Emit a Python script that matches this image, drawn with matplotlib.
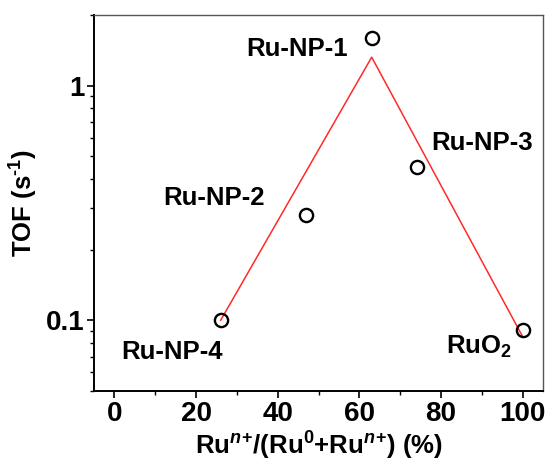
import matplotlib.pyplot as plt
from matplotlib.ticker import FixedLocator, LogLocator, NullFormatter

plt.rcParams["font.family"] = ["Liberation Sans", "DejaVu Sans"]
plt.rcParams["mathtext.fontset"] = "custom"
plt.rcParams["mathtext.rm"] = "Liberation Sans:bold"
plt.rcParams["mathtext.it"] = "Liberation Sans:bold:italic"
plt.rcParams["mathtext.bf"] = "Liberation Sans:bold"

# measured samples
samples = ["Ru-NP-4", "Ru-NP-2", "Ru-NP-1", "Ru-NP-3", "RuO$_2$"]
ru_ratio = [26, 47, 63, 74, 100]
tof = [0.100, 0.280, 1.60, 0.450, 0.091]

# guide line (volcano)
trend_x = [26, 63, 100]
trend_y = [0.100, 1.32, 0.085]

# label anchors (x, y, horizontal alignment)
label_pos = [
    (14.2, 0.0687, "center"),
    (24.3, 0.309, "center"),
    (44.8, 1.342, "center"),
    (90.0, 0.532, "center"),
    (81.2, 0.0717, "left"),
]

fig = plt.figure(figsize=(5.47, 4.63), dpi=100)
ax = fig.add_axes([0.172, 0.1555, 0.821, 0.8125])

ax.plot(trend_x, trend_y, color="#ff2a2a", linewidth=1.1, zorder=2)
ax.plot(ru_ratio, tof, linestyle="none", marker="o", markersize=9.5,
        markerfacecolor="none", markeredgecolor="black",
        markeredgewidth=1.7, zorder=3)

for name, (lx, ly, ha) in zip(samples, label_pos):
    ax.text(lx, ly, name, ha=ha, va="baseline", fontsize=18.5,
            fontweight="bold")

ax.set_yscale("log")
ax.set_xlim(-5, 105)
ax.set_ylim(0.05, 2)

ax.xaxis.set_major_locator(FixedLocator([0, 20, 40, 60, 80, 100]))
ax.xaxis.set_minor_locator(FixedLocator([10, 30, 50, 70, 90]))
ax.yaxis.set_major_locator(FixedLocator([0.1, 1]))
ax.yaxis.set_major_formatter(plt.FixedFormatter(["0.1", "1"]))
ax.yaxis.set_minor_locator(LogLocator(base=10, subs=range(2, 10)))
ax.yaxis.set_minor_formatter(NullFormatter())

ax.tick_params(which="major", direction="out", length=5, width=1.2,
               labelsize=20, pad=2)
ax.tick_params(which="minor", direction="out", length=3, width=1.0)
ax.tick_params(top=False, right=False, which="both")
for lab in ax.get_xticklabels() + ax.get_yticklabels():
    lab.set_fontweight("bold")

for side in ["left", "bottom"]:
    ax.spines[side].set_linewidth(1.4)
    ax.spines[side].set_color("black")
for side in ["top", "right"]:
    ax.spines[side].set_linewidth(1.0)
    ax.spines[side].set_color("#555555")

ax.set_xlabel("Ru$^{n}$$^{+}$/(Ru$^{0}$+Ru$^{n}$$^{+}$) (%)", fontsize=18.5,
              fontweight="bold", labelpad=2)
ax.set_ylabel("TOF (s$^{\\text{-}1}$)", fontsize=18.5, fontweight="bold",
              labelpad=4)

fig.savefig("out.png", dpi=100)
